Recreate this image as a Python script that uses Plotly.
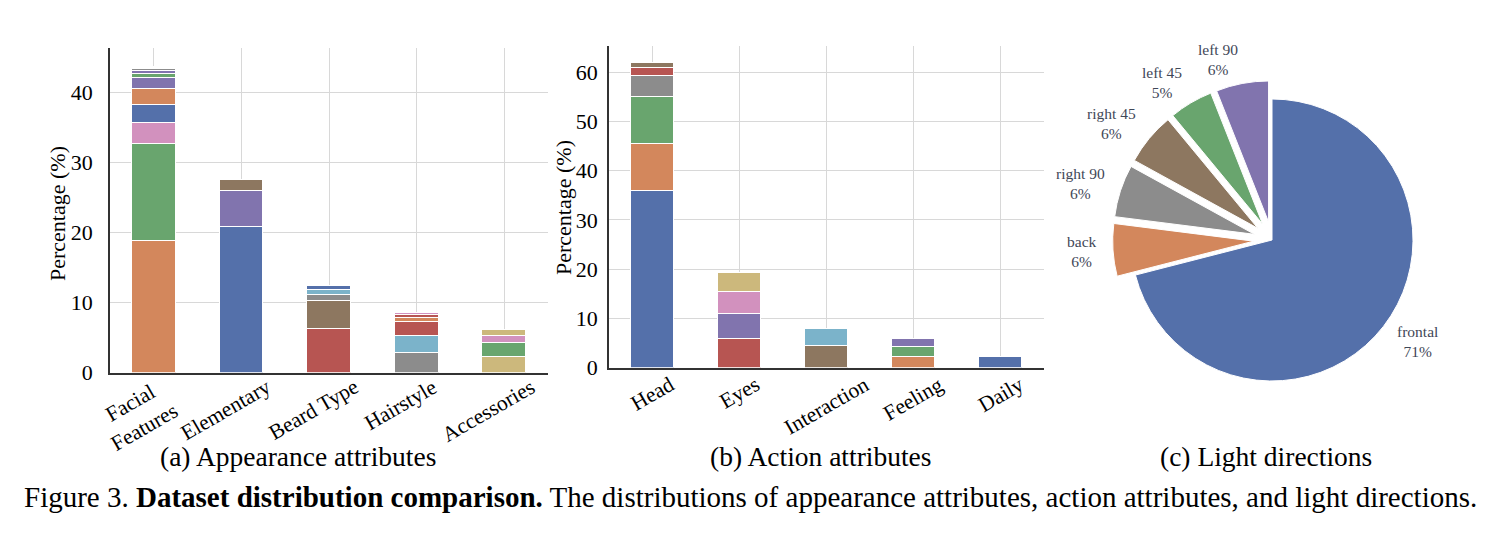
import numpy as np
import plotly.graph_objects as go

W, H = 1512, 536

# ---------- colours (seaborn "deep"-like, as seen in picture) ----------
C = {
    "blue": "#5470AA", "orange": "#D3875C", "green": "#69A56E", "red": "#B75552",
    "purple": "#8174AE", "brown": "#8D7760", "pink": "#D291BE", "grey": "#8C8C8C",
    "tan": "#CCB87C", "lblue": "#7BB3CA",
}

# ---------- (a) Appearance attributes ----------
app_categories = ["Facial<br>Features", "Elementary", "Beard Type", "Hairstyle", "Accessories"]
facial_vals = [18.8, 13.85, 3.1, 2.45, 2.3, 1.6, 0.55, 0.5, 0.2, 0.2, 0.15]
facial_cols = ["orange", "green", "pink", "blue", "orange", "purple", "green", "purple", "grey", "brown", "tan"]
elementary_vals = [20.8, 5.2, 1.5]
elementary_cols = ["blue", "purple", "brown"]
beard_vals = [6.2, 4.0, 0.9, 0.7, 0.6]
beard_cols = ["red", "brown", "grey", "lblue", "blue"]
hair_vals = [2.85, 2.45, 1.9, 0.6, 0.4, 0.37]
hair_cols = ["grey", "lblue", "red", "orange", "red", "pink"]
acc_vals = [2.3, 1.9, 1.0, 0.9]
acc_cols = ["tan", "green", "pink", "tan"]
app_stacks = [(facial_vals, facial_cols), (elementary_vals, elementary_cols),
              (beard_vals, beard_cols), (hair_vals, hair_cols), (acc_vals, acc_cols)]

# ---------- (b) Action attributes ----------
act_categories = ["Head", "Eyes", "Interaction", "Feeling", "Daily"]
head_vals = [35.9, 9.45, 9.5, 4.35, 1.6, 1.15]
head_cols = ["blue", "orange", "green", "grey", "red", "brown"]
eyes_vals = [5.8, 5.1, 4.4, 4.0]
eyes_cols = ["red", "purple", "pink", "tan"]
inter_vals = [4.4, 3.45]
inter_cols = ["brown", "lblue"]
feel_vals = [2.2, 2.0, 1.6]
feel_cols = ["orange", "green", "purple"]
daily_vals = [2.15]
daily_cols = ["blue"]
act_stacks = [(head_vals, head_cols), (eyes_vals, eyes_cols), (inter_vals, inter_cols),
              (feel_vals, feel_cols), (daily_vals, daily_cols)]

# ---------- (c) Light directions ----------
light_labels = ["frontal", "back", "right 90", "right 45", "left 45", "left 90"]
light_values = [71, 6, 6, 6, 5, 6]
light_cols = ["blue", "orange", "grey", "brown", "green", "purple"]
light_pull = [0, 0.13, 0.13, 0.13, 0.13, 0.13]

SERIF = "Liberation Serif"
OFF = 8  # page body margin of the rendered html

def px_x(p):
    return (p - OFF) / W

def px_y(p):
    return 1 - (p - OFF) / H

fig = go.Figure()

def add_stacks(cats, stacks, xa, ya):
    for cat, (vals, cols) in zip(cats, stacks):
        for v, c in zip(vals, cols):
            fig.add_trace(go.Bar(
                x=[cat], y=[v], marker=dict(color=C[c], line=dict(color="white", width=1)),
                width=0.5, xaxis=xa, yaxis=ya, showlegend=False, hoverinfo="skip"))

add_stacks(app_categories, app_stacks, "x", "y")
add_stacks(act_categories, act_stacks, "x2", "y2")

# pie geometry (layout)
PCX, PCY, PR = 1272, 240, 141
half = PR * (1 + max(light_pull))
fig.add_trace(go.Pie(
    labels=light_labels, values=light_values, sort=False, direction="clockwise",
    rotation=0, marker=dict(colors=[C[c] for c in light_cols], line=dict(color="white", width=1)),
    pull=light_pull, textinfo="none", automargin=False,
    domain=dict(x=[px_x(PCX - half), px_x(PCX + half)], y=[px_y(PCY + half), px_y(PCY - half)]),
    showlegend=False, hoverinfo="skip"))

grid = "#d8d8d8"
spine = "#333333"
common_x = dict(showgrid=True, gridcolor=grid, gridwidth=1.3, showline=True, linecolor=spine,
                linewidth=1.7, showticklabels=False, ticks="", range=[-0.5, 4.5], zeroline=False,
                type="category", automargin=False)
common_y = dict(showgrid=True, gridcolor=grid, gridwidth=1.3, showline=True, linecolor=spine,
                linewidth=1.7, zeroline=False, ticks="outside", tickcolor="rgba(0,0,0,0)",
                tickfont=dict(family=SERIF, size=22, color="black"), tickvals=[0, 10, 20, 30, 40, 50, 60],
                automargin=False)

fig.update_layout(
    width=W, height=H, margin=dict(l=0, r=0, t=0, b=0, pad=0, autoexpand=False),
    paper_bgcolor="white", plot_bgcolor="white", barmode="stack", bargap=0,
    xaxis=dict(common_x, domain=[px_x(110), px_x(548)], anchor="y"),
    yaxis=dict(common_y, domain=[px_y(372.7), px_y(48)], range=[0, 46.4], anchor="x", ticklen=11),
    xaxis2=dict(common_x, domain=[px_x(609), px_x(1044)], anchor="y2"),
    yaxis2=dict(common_y, domain=[px_y(367.7), px_y(46)], range=[0, 65.3], anchor="x2", ticklen=5),
)

ann = []
# rotated category labels
for cat in app_categories:
    ann.append(dict(x=cat, y=0, xref="x", yref="y", text=cat, textangle=-30, showarrow=False,
                    xanchor="center", yanchor="top", yshift=1, xshift=-16,
                    font=dict(family=SERIF, size=21.5, color="black")))
for cat in act_categories:
    ann.append(dict(x=cat, y=0, xref="x2", yref="y2", text=cat, textangle=-30, showarrow=False,
                    xanchor="center", yanchor="top", yshift=-2,
                    font=dict(family=SERIF, size=21.5, color="black")))
# y titles
for xp, yp in [(58, 214), (564, 208)]:
    ann.append(dict(x=px_x(xp), y=px_y(yp), xref="paper", yref="paper", text="Percentage (%)",
                    textangle=-90, showarrow=False, xanchor="center", yanchor="middle",
                    font=dict(family=SERIF, size=22, color="black")))

# pie labels, placed along each slice's middle angle
vals = np.array(light_values, dtype=float)
ends = np.cumsum(vals) / vals.sum() * 2 * np.pi
mids = ends - vals / vals.sum() * np.pi
for lab, v, m, p in zip(light_labels, light_values, mids, light_pull):
    lx = PCX + (p + 1.1) * PR * np.sin(m)
    ly = PCY - (p + 1.17) * PR * np.cos(m)
    pct = round(v / vals.sum() * 100)
    ann.append(dict(x=px_x(lx), y=px_y(ly), xref="paper", yref="paper",
                    text=f"{lab}<br>{pct}%", showarrow=False,
                    xanchor="left" if np.sin(m) > 0 else "right", yanchor="middle",
                    font=dict(family=SERIF, size=15.5, color="#3f4757")))

# sub captions
for xp, txt in [(298, "(a) Appearance attributes"), (820, "(b) Action attributes"),
                (1266, "(c) Light directions")]:
    ann.append(dict(x=px_x(xp), y=px_y(456), xref="paper", yref="paper", text=txt, showarrow=False,
                    xanchor="center", yanchor="middle", font=dict(family=SERIF, size=27.5, color="black")))
ann.append(dict(x=px_x(750), y=px_y(497), xref="paper", yref="paper",
                text="Figure 3. <b>Dataset distribution comparison.</b> The distributions of appearance attributes, action attributes, and light directions.",
                showarrow=False, xanchor="center", yanchor="middle",
                font=dict(family=SERIF, size=29, color="black")))
fig.update_layout(annotations=ann)

fig.write_html("out.html")
